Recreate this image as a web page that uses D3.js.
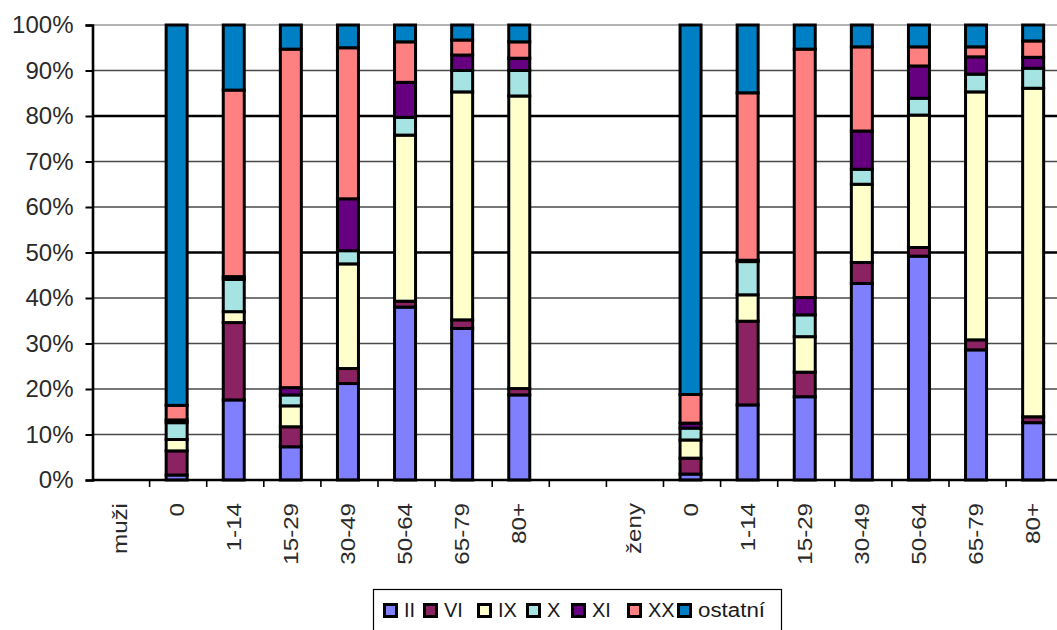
<!DOCTYPE html>
<html>
<head>
<meta charset="utf-8">
<script src="https://cdn.jsdelivr.net/npm/d3@7"></script>
<style>
  html, body { margin: 0; padding: 0; background: #fff; }
  svg { display: block; font-family: "Liberation Sans", Arial, sans-serif; }
</style>
</head>
<body>
<svg id="chart" width="1057" height="630"></svg>
<script>
// Categories along the x axis (group headers and an empty spacer have no bar)
const categories = ["muži", "0", "1-14", "15-29", "30-49", "50-64", "65-79", "80+", "",
                    "ženy", "0", "1-14", "15-29", "30-49", "50-64", "65-79", "80+"];

// Share (%) of each diagnosis group per age band
const seriesII      = [null, 1.1, 17.6,  7.3, 21.2, 38.0, 33.3, 18.7, null, null, 1.3, 16.5, 18.3, 43.2, 49.2, 28.6, 12.6];
const seriesVI      = [null, 5.3, 17.0,  4.4,  3.3,  1.3,  1.9,  1.4, null, null, 3.5, 18.4,  5.4,  4.6,  1.9,  2.2,  1.3];
const seriesIX      = [null, 2.5,  2.4,  4.6, 23.0, 36.5, 50.1, 64.3, null, null, 4.0,  5.8,  7.8, 17.2, 29.1, 54.5, 72.2];
const seriesX       = [null, 3.7,  7.1,  2.4,  2.9,  3.9,  4.7,  5.6, null, null, 2.6,  7.3,  4.8,  3.3,  3.7,  3.9,  4.4];
const seriesXI      = [null, 0.6,  0.6,  1.6, 11.4,  7.7,  3.4,  2.7, null, null, 1.1,  0.3,  3.8,  8.4,  7.1,  3.8,  2.4];
const seriesXX      = [null, 3.2, 41.0, 74.4, 33.2,  8.9,  3.3,  3.6, null, null, 6.3, 36.8, 54.6, 18.5,  4.2,  2.2,  3.6];
const seriesOstatni = [null, 83.6, 14.3, 5.3,  5.0,  3.7,  3.3,  3.7, null, null, 81.2, 14.9, 5.3,  4.8,  4.8,  4.8,  3.5];

const seriesNames = ["II", "VI", "IX", "X", "XI", "XX", "ostatní"];
const seriesColors = ["#8080FF", "#8B2262", "#FFFFCC", "#A6E3E3", "#660080", "#FF8080", "#0080C4"];
const yTicks = [0, 10, 20, 30, 40, 50, 60, 70, 80, 90, 100];

const allSeries = [seriesII, seriesVI, seriesIX, seriesX, seriesXI, seriesXX, seriesOstatni];

// Rows for stacking; only categories with values become bars
const rows = categories.map((c, i) => {
  const r = { idx: i };
  seriesNames.forEach((n, s) => { r[n] = allSeries[s][i]; });
  return r;
}).filter(r => r.II !== null);

const svg = d3.select("#chart");
const margin = { left: 92.5, top: 25, bottom: 150 };
const step = 57.1;
const plotW = step * categories.length;
const plotH = 630 - margin.top - margin.bottom;

const x = d3.scaleBand()
  .domain(d3.range(categories.length))
  .range([margin.left, margin.left + plotW])
  .paddingInner(0).paddingOuter(0);

const y = d3.scaleLinear().domain([0, 100]).range([margin.top + plotH, margin.top]);

// Horizontal gridlines
const grid = svg.append("g");
grid.selectAll("line")
  .data(yTicks.filter(t => t > 0))
  .join("line")
  .attr("x1", margin.left).attr("x2", margin.left + plotW)
  .attr("y1", d => y(d)).attr("y2", d => y(d))
  .attr("stroke", d => d === 100 ? "#9a9a9a" : (d === 50 || d === 80) ? "#000" : "#4a4a4a")
  .attr("stroke-width", d => (d === 50 || d === 80) ? 2.6 : 1.6);

// Stacked bars
const stack = d3.stack().keys(seriesNames);
const stacked = stack(rows);
const barW = 21;

const layers = svg.append("g").selectAll("g")
  .data(stacked)
  .join("g")
  .attr("fill", (d, i) => seriesColors[i]);

layers.selectAll("rect")
  .data(d => d)
  .join("rect")
  .attr("x", d => x(d.data.idx) + x.bandwidth() / 2 - barW / 2 - 1.5)
  .attr("width", barW)
  .attr("y", d => y(d[1]))
  .attr("height", d => Math.max(0, y(d[0]) - y(d[1])))
  .attr("stroke", "#000")
  .attr("stroke-width", 3);

// Y axis
const yAxis = svg.append("g")
  .attr("transform", `translate(${margin.left},0)`)
  .call(d3.axisLeft(y).tickValues(yTicks).tickFormat(d => d + "%").tickSize(7).tickPadding(12));
yAxis.select(".domain").attr("stroke", "#000").attr("stroke-width", 2.6);
yAxis.selectAll(".tick line").attr("stroke", "#000").attr("stroke-width", 2);
yAxis.selectAll(".tick text")
  .attr("font-size", 24).attr("fill", "#2a2a2a")
  .attr("font-family", "'Liberation Sans', Arial, sans-serif");

// X axis with ticks between categories
const xAxisG = svg.append("g").attr("transform", `translate(0,${y(0)})`);
xAxisG.append("line")
  .attr("x1", margin.left).attr("x2", margin.left + plotW)
  .attr("stroke", "#000").attr("stroke-width", 2.6);
xAxisG.selectAll("line.tick")
  .data(d3.range(1, categories.length))
  .join("line")
  .attr("class", "tick")
  .attr("x1", d => x(d)).attr("x2", d => x(d))
  .attr("y1", 0).attr("y2", 7)
  .attr("stroke", "#000").attr("stroke-width", 1.6);

// Rotated category labels, slightly stretched along their length
xAxisG.selectAll("text")
  .data(categories.map((c, i) => ({ c, i })).filter(d => d.c !== ""))
  .join("text")
  .attr("transform", d => `translate(${x(d.i) + x.bandwidth() / 2 - 2},23) rotate(-90) scale(1.15,1)`)
  .attr("text-anchor", "end")
  .attr("dy", "0.36em")
  .attr("font-size", 21)
  .attr("fill", "#2a2a2a")
  .text(d => d.c);

// Legend
const legend = svg.append("g");
legend.append("rect")
  .attr("x", 373.5).attr("y", 589.5).attr("width", 408).attr("height", 60)
  .attr("fill", "#fff").attr("stroke", "#000").attr("stroke-width", 1.2);

const legendX = [383, 423, 477, 526, 571, 627, 677];
const items = legend.selectAll("g.item")
  .data(seriesNames.map((n, i) => ({ n, i })))
  .join("g")
  .attr("class", "item")
  .attr("transform", d => `translate(${legendX[d.i]},0)`);
items.append("rect")
  .attr("x", 1.5).attr("y", 604.5).attr("width", 12).attr("height", 12)
  .attr("fill", d => seriesColors[d.i])
  .attr("stroke", "#000").attr("stroke-width", 3);
items.append("text")
  .attr("x", 21).attr("y", 617)
  .attr("font-size", 20)
  .attr("fill", "#1a1a1a")
  .each(function (d) {
    if (d.n === "ostatní") {
      d3.select(this).attr("textLength", 67).attr("lengthAdjust", "spacingAndGlyphs");
    }
  })
  .text(d => d.n);
</script>
</body>
</html>
